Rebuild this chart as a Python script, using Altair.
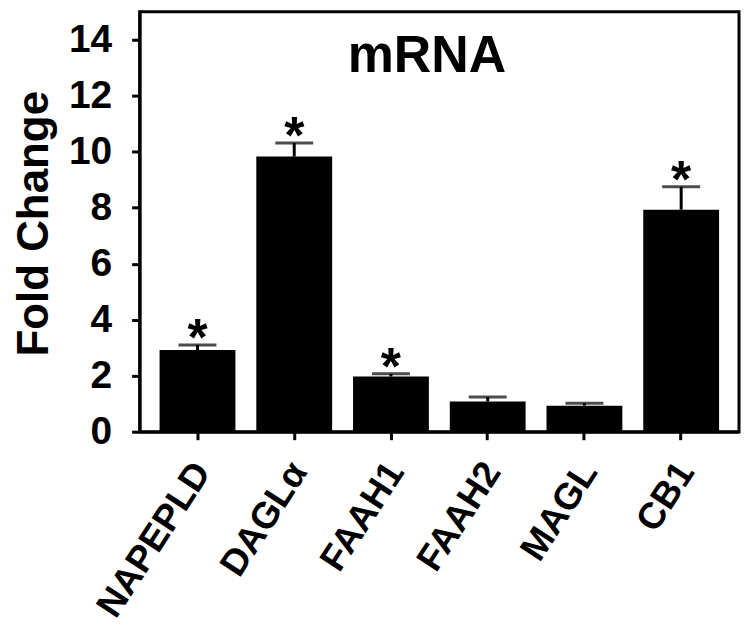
import altair as alt
import pandas as pd

genes = ["NAPEPLD", "DAGLα", "FAAH1", "FAAH2", "MAGL", "CB1"]
fold_change = [2.92, 9.83, 1.97, 1.08, 0.93, 7.93]
sem = [0.18, 0.48, 0.10, 0.16, 0.09, 0.82]
significant = ["*", "*", "*", "", "", "*"]
y_ticks = [0, 2, 4, 6, 8, 10, 12, 14]

df = pd.DataFrame({"gene": genes, "fc": fold_change, "sem": sem, "sig": significant})
df["upper"] = df["fc"] + df["sem"]

FONT = "Liberation Sans"

xenc = alt.X(
    "gene:N",
    sort=genes,
    title=None,
    scale=alt.Scale(paddingInner=0.216, paddingOuter=0.206),
    axis=alt.Axis(
        labelAngle=-57,
        labelAlign="right",
        labelBaseline="middle",
        labelPadding=26,
        labelOffset=5,
        labelLimit=0,
        labelFontSize=37,
        labelFont=FONT,
        labelFontWeight="bold",
        labelColor="black",
        tickSize=8,
        tickWidth=3,
        tickColor="black",
        domainWidth=3,
        domainColor="black",
        grid=False,
    ),
)

yenc = alt.Y(
    "fc:Q",
    title="Fold Change",
    scale=alt.Scale(domain=[0, 15], nice=False, zero=True),
    axis=alt.Axis(
        values=y_ticks,
        labelFontSize=39,
        labelFont=FONT,
        labelFontWeight="bold",
        labelColor="black",
        labelPadding=20,
        tickSize=8,
        tickWidth=3,
        tickColor="black",
        domainWidth=3,
        domainColor="black",
        grid=False,
        titleFontSize=44,
        titleFont=FONT,
        titleFontWeight="bold",
        titleColor="black",
        titleAngle=-90,
        titleAlign="center",
        titleBaseline="alphabetic",
        titleX=-92,
        titleY=212,
    ),
)

xplain = alt.X("gene:N", sort=genes)

bars = alt.Chart(df).mark_bar(color="black").encode(x=xenc, y=yenc)

err = alt.Chart(df).mark_rule(color="black", strokeWidth=3).encode(
    x=xplain, y="fc:Q", y2="upper:Q"
)

caps = alt.Chart(df).mark_tick(
    color="black", orient="horizontal", size=38, thickness=3
).encode(x=xplain, y="upper:Q")

stars = alt.Chart(df).mark_text(
    fontSize=52, fontWeight="bold", font=FONT, baseline="alphabetic", dy=10, color="black"
).encode(x=xplain, y="upper:Q", text="sig:N")

title_df = pd.DataFrame({"t": ["mRNA"]})
title = alt.Chart(title_df).mark_text(
    fontSize=52, fontWeight="bold", font=FONT, baseline="alphabetic", align="center", color="black"
).encode(text="t:N", x=alt.value(288), y=alt.value(60))

chart = (
    alt.layer(bars, err, caps, stars, title)
    .properties(
        width=601,
        height=421,
        autosize="none",
        padding={"left": 132, "top": 3, "right": 5, "bottom": 204},
    )
    .configure_view(stroke="black", strokeWidth=3)
)

chart.save("out.html", embed_options={"renderer": "svg", "actions": False})
